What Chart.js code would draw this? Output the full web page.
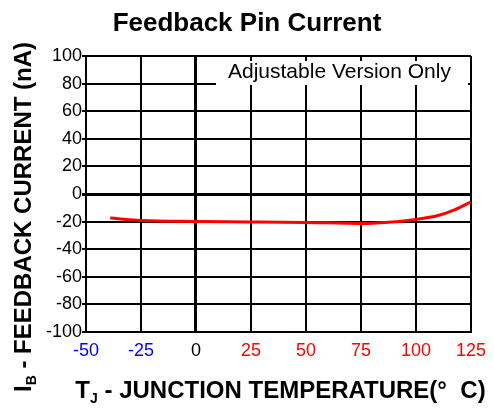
<!DOCTYPE html>
<html lang="en">
<head>
    <meta charset="UTF-8">
    <title>Feedback Pin Current</title>
    <script src="https://cdn.jsdelivr.net/npm/chart.js"></script>
    <style>
        html, body { margin: 0; padding: 0; background: #fff; }
        canvas { display: block; }
    </style>
</head>
<body>
    <canvas id="fb-chart" width="494" height="408"></canvas>
    <script>
        // valores
        const temps = [-39, -25, 0, 25, 50, 75, 87.5, 100, 110, 117.5, 125];
        const current = [-17.4, -19.2, -19.9, -20.2, -20.6, -21.3, -20.4, -18.4, -15.6, -11.5, -5.7];
        const xTicks = [-50, -25, 0, 25, 50, 75, 100, 125];
        const yTicks = [-100, -80, -60, -40, -20, 0, 20, 40, 60, 80, 100];
        const titleText = 'Feedback Pin Current';
        const noteText = 'Adjustable Version Only';

        const FONT = "'Liberation Sans', Arial, sans-serif";

        // desenha texto com subscrito
        function drawRich(ctx, parts, x, y) {
            let total = 0;
            parts.forEach(p => {
                ctx.font = 'bold ' + p.s + 'px ' + FONT;
                p.w = ctx.measureText(p.t).width;
                total += p.w;
            });
            let cur = x - total / 2;
            parts.forEach(p => {
                ctx.font = 'bold ' + p.s + 'px ' + FONT;
                ctx.fillText(p.t, cur, y + (p.dy || 0));
                cur += p.w;
            });
        }

        const extras = {
            id: 'extras',
            beforeDatasetsDraw(chart) {
                const ctx = chart.ctx;
                ctx.save();
                ctx.fillStyle = '#fff';
                ctx.fillRect(216, 61, 252, 24);
                ctx.fillStyle = '#000';
                ctx.font = '21px ' + FONT;
                ctx.textAlign = 'left';
                ctx.textBaseline = 'alphabetic';
                ctx.fillText(noteText, 228, 78);
                ctx.restore();
            },
            afterDraw(chart) {
                const ctx = chart.ctx;
                const area = chart.chartArea;
                ctx.save();
                ctx.fillStyle = '#000';
                ctx.textBaseline = 'alphabetic';
                ctx.textAlign = 'center';
                ctx.font = 'bold 26px ' + FONT;
                ctx.fillText(titleText, 247, 31);
                ctx.textAlign = 'left';
                drawRich(ctx, [
                    { t: 'T', s: 24 },
                    { t: 'J', s: 14, dy: 5 },
                    { t: ' - JUNCTION TEMPERATURE(\u00B0  C)', s: 24 }
                ], (area.left + area.right) / 2 + 2, 398);
                ctx.translate(31, 217);
                ctx.rotate(-Math.PI / 2);
                drawRich(ctx, [
                    { t: 'I', s: 24 },
                    { t: 'B', s: 14, dy: 5 },
                    { t: ' - FEEDBACK CURRENT (nA)', s: 24 }
                ], 0, 0);
                ctx.restore();
            }
        };

        const ctx1 = document.getElementById('fb-chart').getContext('2d');
        const fbChart = new Chart(ctx1, {
            type: 'line',
            data: {
                datasets: [{
                    label: titleText,
                    data: temps.map((t, i) => ({ x: t, y: current[i] })),
                    borderColor: '#ff0000',
                    borderWidth: 3,
                    pointRadius: 0,
                    fill: false,
                    cubicInterpolationMode: 'monotone'
                }]
            },
            options: {
                responsive: false,
                animation: false,
                devicePixelRatio: 1,
                layout: { padding: { left: 0, right: 23, top: 56, bottom: 0 } },
                plugins: {
                    legend: { display: false },
                    tooltip: { enabled: false },
                    title: { display: false }
                },
                scales: {
                    x: {
                        type: 'linear',
                        min: -50,
                        max: 125,
                        afterBuildTicks: s => { s.ticks = xTicks.map(v => ({ value: v })); },
                        afterFit: s => { s.height = 76; },
                        grid: {
                            color: '#000',
                            lineWidth: c => (c.tick && c.tick.value === 0 ? 3 : 2),
                            drawTicks: false
                        },
                        border: { color: '#000', width: 2 },
                        ticks: {
                            padding: 8,
                            maxRotation: 0,
                            font: { family: FONT, size: 18 },
                            color: c => (c.tick.value < 0 ? '#0000ff' : (c.tick.value === 0 ? '#000' : '#ff0000'))
                        }
                    },
                    y: {
                        min: -100,
                        max: 100,
                        afterBuildTicks: s => { s.ticks = yTicks.map(v => ({ value: v })); },
                        afterFit: s => { s.width = 86; },
                        grid: {
                            color: '#000',
                            lineWidth: c => (c.tick && c.tick.value === 0 ? 3 : 2),
                            tickLength: 4
                        },
                        border: { color: '#000', width: 2 },
                        ticks: {
                            padding: 0,
                            font: { family: FONT, size: 18 },
                            color: '#000'
                        }
                    }
                }
            },
            plugins: [extras]
        });
    </script>
</body>
</html>
